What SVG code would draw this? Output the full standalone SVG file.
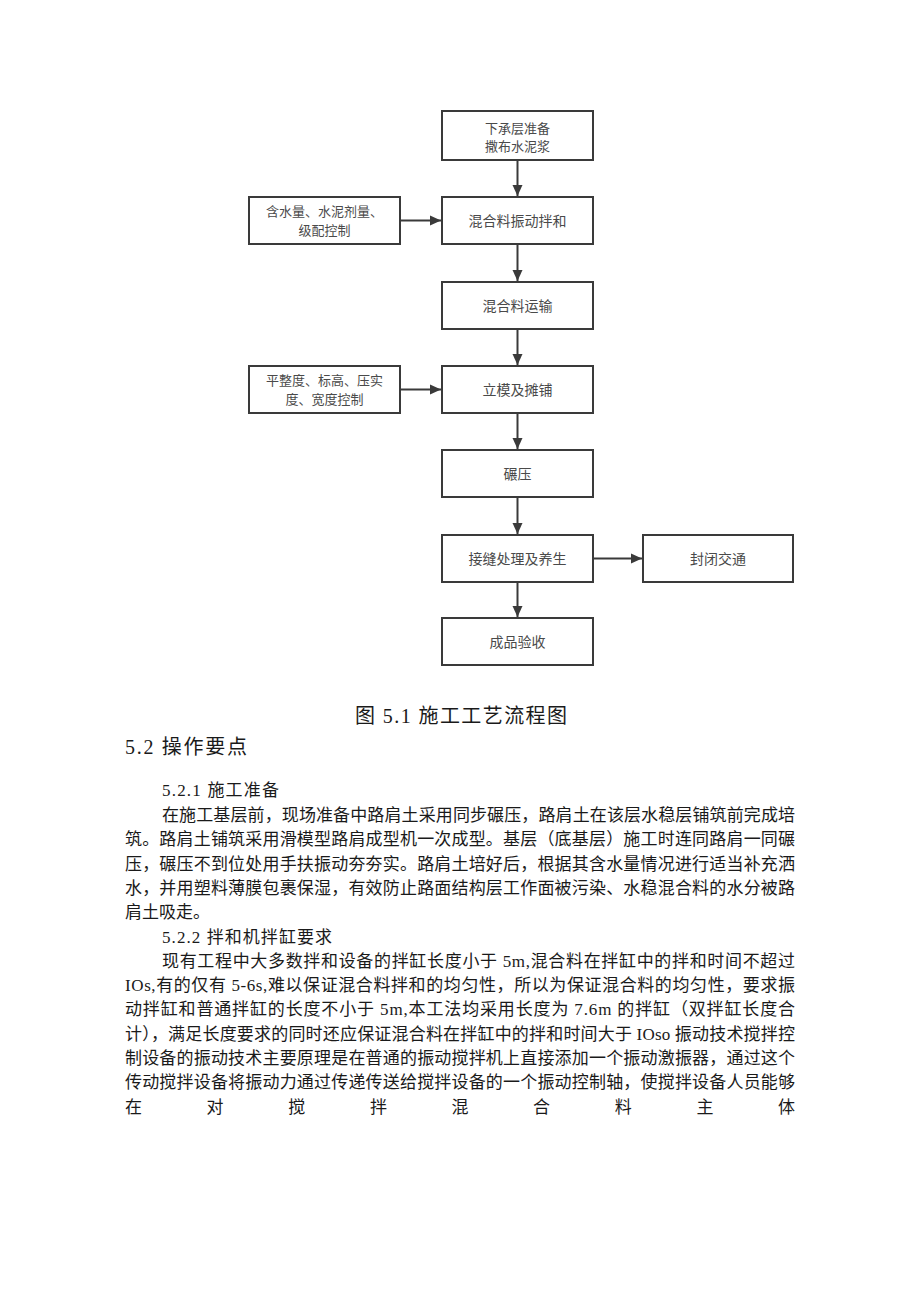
<svg xmlns="http://www.w3.org/2000/svg" width="920" height="1301" viewBox="0 0 920 1301">
<style>
.box{fill:#fff;stroke:#3a3a3a;stroke-width:2}
.bt{font-family:"Noto Sans CJK SC","Noto Sans",sans-serif;font-size:14px;fill:#4a4a4a;text-anchor:middle}
.bt2{font-family:"Noto Sans CJK SC","Noto Sans",sans-serif;font-size:13px;fill:#4a4a4a;text-anchor:middle}
.con{stroke:#3a3a3a;stroke-width:2;fill:none}
.body{font-family:"Liberation Serif","Noto Sans CJK SC",serif;font-size:17px;fill:#1a1a1a}
.h{font-family:"Liberation Serif","Noto Sans CJK SC",serif;font-size:20px;fill:#1a1a1a}
</style>
<defs>
<marker id="ah" markerUnits="userSpaceOnUse" markerWidth="12" markerHeight="12" viewBox="0 0 12 12" refX="11" refY="6" orient="auto">
<path d="M0,1 L11,6 L0,11 Z" fill="#3a3a3a"/>
</marker>
</defs>
<rect width="920" height="1301" fill="#fff"/>

<g id="connectors">
<line class="con" x1="517.5" y1="160" x2="517.5" y2="196" marker-end="url(#ah)"/>
<line class="con" x1="517.5" y1="244" x2="517.5" y2="281" marker-end="url(#ah)"/>
<line class="con" x1="517.5" y1="329" x2="517.5" y2="365" marker-end="url(#ah)"/>
<line class="con" x1="517.5" y1="413" x2="517.5" y2="449" marker-end="url(#ah)"/>
<line class="con" x1="517.5" y1="497" x2="517.5" y2="534" marker-end="url(#ah)"/>
<line class="con" x1="517.5" y1="582" x2="517.5" y2="617" marker-end="url(#ah)"/>
<line class="con" x1="400" y1="220.5" x2="441" y2="220.5" marker-end="url(#ah)"/>
<line class="con" x1="400" y1="389.5" x2="441" y2="389.5" marker-end="url(#ah)"/>
<line class="con" x1="593" y1="558.5" x2="642" y2="558.5" marker-end="url(#ah)"/>
</g>

<g id="n1"><rect class="box" x="442" y="111" width="151" height="49"/>
<text class="bt2" x="517.5" y="132.5">下承层准备</text><text class="bt2" x="517.5" y="151">撒布水泥浆</text></g>
<g id="n2"><rect class="box" x="442" y="197" width="151" height="47"/>
<text class="bt" x="517.5" y="225.5">混合料振动拌和</text></g>
<g id="n3"><rect class="box" x="442" y="282" width="151" height="47"/>
<text class="bt" x="517.5" y="310.5">混合料运输</text></g>
<g id="n4"><rect class="box" x="442" y="366" width="151" height="47"/>
<text class="bt" x="517.5" y="394.5">立模及摊铺</text></g>
<g id="n5"><rect class="box" x="442" y="450" width="151" height="47"/>
<text class="bt" x="517.5" y="478.5">碾压</text></g>
<g id="n6"><rect class="box" x="442" y="535" width="151" height="47"/>
<text class="bt" x="517.5" y="563.5">接缝处理及养生</text></g>
<g id="n7"><rect class="box" x="442" y="618" width="151" height="47"/>
<text class="bt" x="517.5" y="646.5">成品验收</text></g>
<g id="l1"><rect class="box" x="249" y="197" width="151" height="47"/>
<text class="bt2" x="324.5" y="216">含水量、水泥剂量、</text><text class="bt2" x="324.5" y="234.5">级配控制</text></g>
<g id="l2"><rect class="box" x="249" y="366" width="151" height="47"/>
<text class="bt2" x="324.5" y="385">平整度、标高、压实</text><text class="bt2" x="324.5" y="403.5">度、宽度控制</text></g>
<g id="r1"><rect class="box" x="643" y="535" width="150" height="47"/>
<text class="bt" x="718" y="563.5">封闭交通</text></g>

<g id="caption">
<text class="h" x="355" y="723" textLength="212" lengthAdjust="spacing">图 5.1 施工工艺流程图</text>
<text class="h" x="125" y="754" textLength="122" lengthAdjust="spacing">5.2 操作要点</text>
<text class="body" x="162" y="796" textLength="117" lengthAdjust="spacing">5.2.1 施工准备</text>
</g>

<g id="bodytext">
<text class="body" x="162" y="821" textLength="633" lengthAdjust="spacing">在施工基层前，现场准备中路肩土采用同步碾压，路肩土在该层水稳层铺筑前完成培</text>
<text class="body" x="125" y="845.3" textLength="670" lengthAdjust="spacing">筑。路肩土铺筑采用滑模型路肩成型机一次成型。基层（底基层）施工时连同路肩一同碾</text>
<text class="body" x="125" y="869.6" textLength="670" lengthAdjust="spacing">压，碾压不到位处用手扶振动夯夯实。路肩土培好后，根据其含水量情况进行适当补充洒</text>
<text class="body" x="125" y="893.9" textLength="670" lengthAdjust="spacing">水，并用塑料薄膜包裹保湿，有效防止路面结构层工作面被污染、水稳混合料的水分被路</text>
<text class="body" x="125" y="918.2">肩土吸走。</text>
<text class="body" x="162" y="942.5" textLength="170" lengthAdjust="spacing">5.2.2 拌和机拌缸要求</text>
<text class="body" x="162" y="966.8" textLength="633" lengthAdjust="spacing">现有工程中大多数拌和设备的拌缸长度小于 5m,混合料在拌缸中的拌和时间不超过</text>
<text class="body" x="125" y="991.1" textLength="670" lengthAdjust="spacing">IOs,有的仅有 5-6s,难以保证混合料拌和的均匀性，所以为保证混合料的均匀性，要求振</text>
<text class="body" x="125" y="1015.4" textLength="670" lengthAdjust="spacing">动拌缸和普通拌缸的长度不小于 5m,本工法均采用长度为 7.6m 的拌缸（双拌缸长度合</text>
<text class="body" x="125" y="1039.7" textLength="670" lengthAdjust="spacing">计），满足长度要求的同时还应保证混合料在拌缸中的拌和时间大于 IOso 振动技术搅拌控</text>
<text class="body" x="125" y="1064" textLength="670" lengthAdjust="spacing">制设备的振动技术主要原理是在普通的振动搅拌机上直接添加一个振动激振器，通过这个</text>
<text class="body" x="125" y="1088.3" textLength="670" lengthAdjust="spacing">传动搅拌设备将振动力通过传递传送给搅拌设备的一个振动控制轴，使搅拌设备人员能够</text>
<text class="body" x="125 206.6 288.3 369.9 451.5 533.1 614.8 696.4 778" y="1112.6">在对搅拌混合料主体</text>
</g>
</svg>
